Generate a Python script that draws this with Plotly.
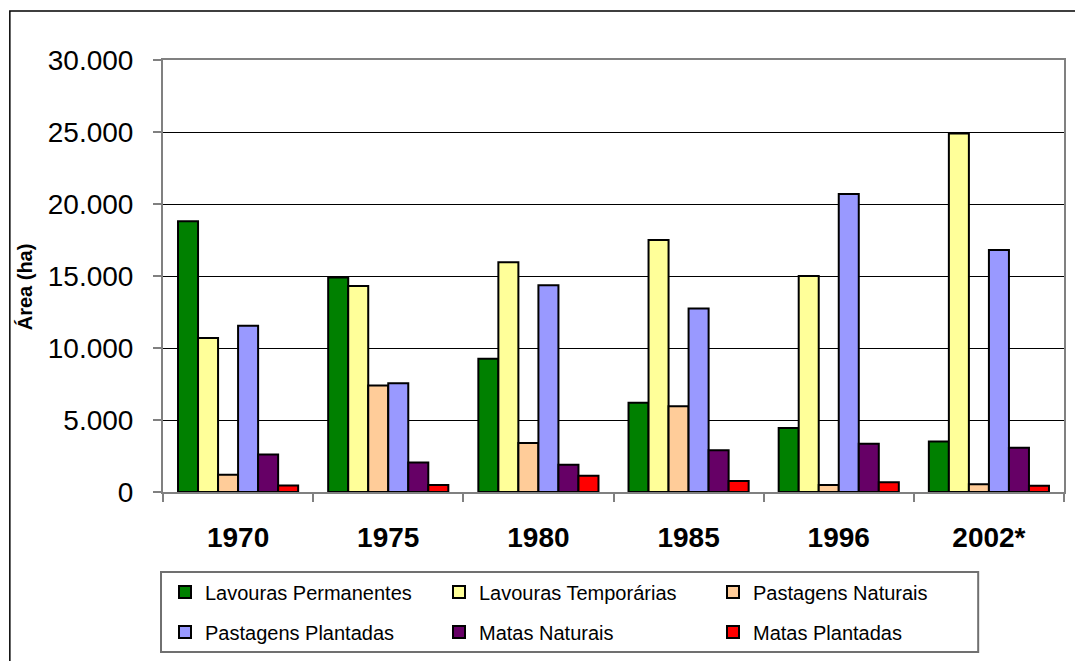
import plotly.graph_objects as go

anos = ["1970", "1975", "1980", "1985", "1996", "2002*"]

lavouras_permanentes = [18800, 14900, 9250, 6200, 4450, 3500]
lavouras_temporarias = [10700, 14300, 15950, 17500, 15000, 24900]
pastagens_naturais = [1200, 7400, 3400, 5950, 480, 530]
pastagens_plantadas = [11550, 7550, 14350, 12750, 20700, 16800]
matas_naturais = [2600, 2050, 1900, 2900, 3350, 3080]
matas_plantadas = [450, 480, 1130, 760, 670, 440]

series = [
    ("Lavouras Permanentes", lavouras_permanentes, "#008000", "legend"),
    ("Lavouras Temporárias", lavouras_temporarias, "#FFFF99", "legend"),
    ("Pastagens Naturais", pastagens_naturais, "#FFCC99", "legend"),
    ("Pastagens Plantadas", pastagens_plantadas, "#9999FF", "legend2"),
    ("Matas Naturais", matas_naturais, "#660066", "legend2"),
    ("Matas Plantadas", matas_plantadas, "#FF0000", "legend2"),
]

FONT = "Liberation Sans, Arial, sans-serif"

fig = go.Figure()
for name, vals, color, leg in series:
    fig.add_trace(go.Bar(
        x=anos, y=vals, name=name, legend=leg,
        marker=dict(color=color, line=dict(color="black", width=2)),
    ))

W, H = 1075, 661
L, R, T, B = 163, 9, 60, 169
pw, ph = W - L - R, H - T - B

def px_x(x):
    return (x - L) / pw

def px_y(y):
    return (H - B - y) / ph

leg_common = dict(
    orientation="h", xanchor="left", yanchor="middle",
    entrywidth=229, entrywidthmode="pixels",
    font=dict(size=20, family=FONT, color="black"),
    bgcolor="rgba(0,0,0,0)", borderwidth=0, traceorder="normal",
)

fig.update_layout(
    width=W, height=H,
    margin=dict(l=L, r=R, t=T, b=B),
    paper_bgcolor="white", plot_bgcolor="white",
    separators=",.",
    bargap=0.2, bargroupgap=0,
    font=dict(family=FONT, color="black"),
    legend=dict(x=px_x(165), y=px_y(592), **leg_common),
    legend2=dict(x=px_x(165), y=px_y(632), **leg_common),
    xaxis=dict(
        type="category", showline=True, linecolor="#808080", linewidth=2, mirror=True,
        ticks="outside", tickson="boundaries", ticklen=8, tickcolor="#808080", tickwidth=1.5,
        tickfont=dict(size=28, family=FONT, color="black", weight="bold"),
        ticklabelstandoff=19, showgrid=False,
    ),
    yaxis=dict(
        range=[0, 30000], dtick=5000, tickformat=",d",
        showline=True, linecolor="#808080", linewidth=2, mirror=True,
        ticks="outside", ticklen=8, tickcolor="#808080", tickwidth=1.5,
        showgrid=True, gridcolor="black", gridwidth=1, zeroline=False,
        tickfont=dict(size=28, family=FONT, color="black"),
        ticklabelstandoff=14,
    ),
    annotations=[dict(
        text="<b>Área (ha)</b>", textangle=-90, xref="paper", yref="paper",
        x=px_x(25), y=px_y(287), xanchor="center", yanchor="middle",
        showarrow=False, font=dict(size=20, family=FONT, color="black"),
    )],
    shapes=[
        dict(type="rect", xref="paper", yref="paper",
             x0=px_x(9.5), x1=px_x(1090), y0=px_y(11), y1=px_y(700),
             line=dict(color="black", width=1.5), fillcolor="rgba(0,0,0,0)", layer="below"),
        dict(type="rect", xref="paper", yref="paper",
             x0=px_x(161), x1=px_x(980), y0=px_y(572), y1=px_y(652),
             line=dict(color="#707070", width=2), fillcolor="rgba(0,0,0,0)", layer="below"),
    ],
)

fig.write_html(
    "out.html",
    config={"displayModeBar": False},
    post_script="document.body.style.margin='0';document.body.style.overflow='hidden';",
)
